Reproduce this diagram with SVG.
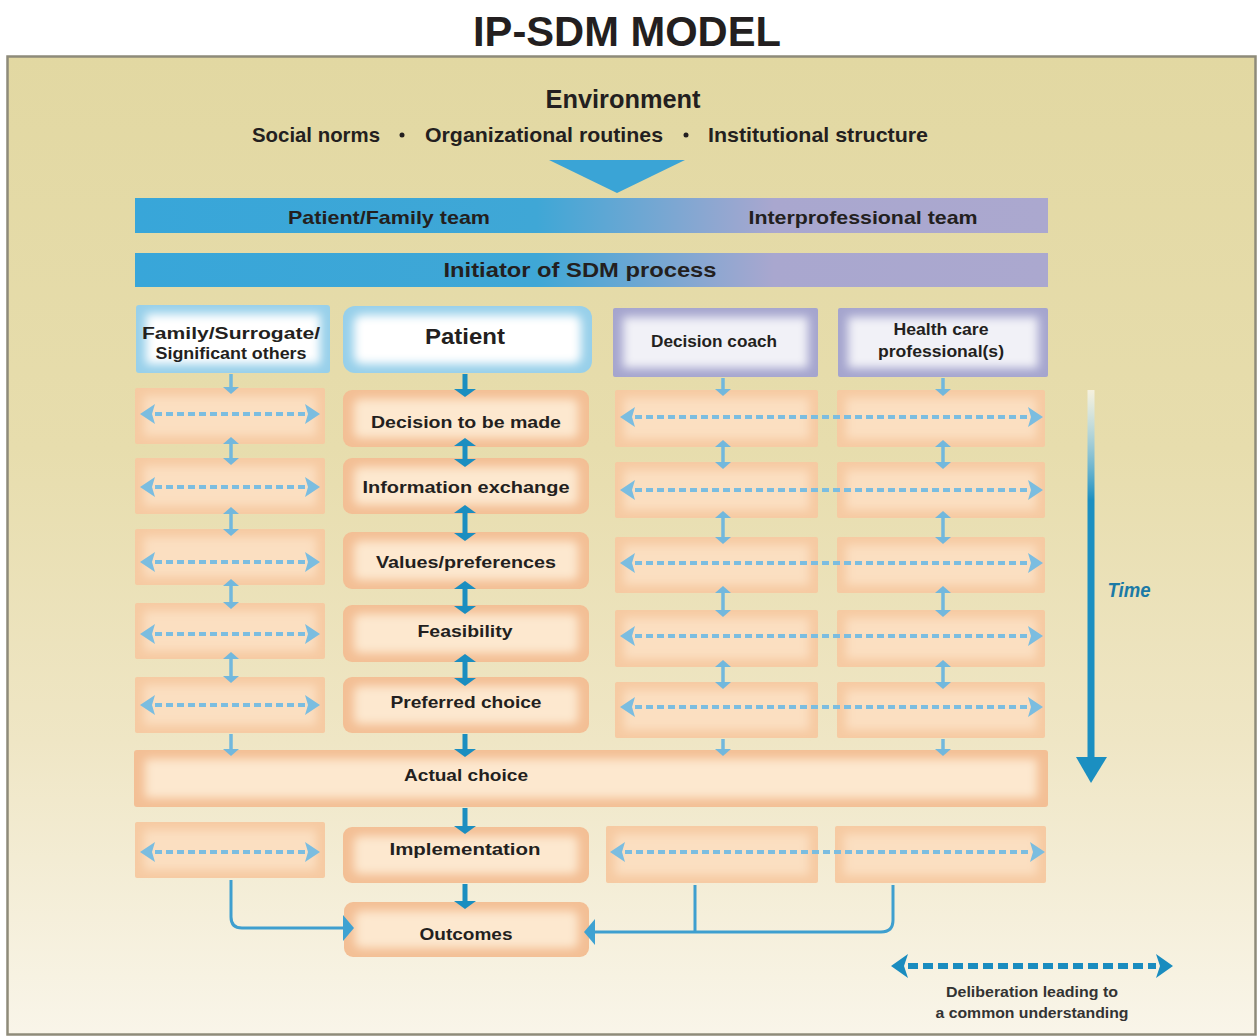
<svg xmlns="http://www.w3.org/2000/svg" width="1259" height="1036" viewBox="0 0 1259 1036">
<style>
.t{font-family:"Liberation Sans",Arial,sans-serif;font-weight:bold;fill:#231f20}
.lbl{font-size:17px;text-anchor:middle}
.hdr{font-size:16px;text-anchor:middle}
.env{font-size:21px;text-anchor:middle}
.sideO{fill:#f6caa2}
.sideI{fill:#fbdfc1;filter:url(#soft)}
.midO{fill:#f3bf95}
.midI{fill:#fde8cf;filter:url(#soft)}
.dl{stroke:#7bbde0;stroke-width:4;stroke-dasharray:7 4;fill:none;marker-start:url(#md);marker-end:url(#md)}
.va{stroke:#72b8dd;stroke-width:3.5;fill:none}
.vd{stroke:#1b8ec0;stroke-width:5;fill:none}
.cn{stroke:#3e9fcf;stroke-width:3;fill:none}
</style>
<defs>
<linearGradient id="bg" x1="0" y1="0" x2="0" y2="1">
<stop offset="0" stop-color="#e2d8a2"/>
<stop offset="0.4" stop-color="#e7ddad"/>
<stop offset="0.7" stop-color="#efe6c5"/>
<stop offset="1" stop-color="#f9f5e9"/>
</linearGradient>
<linearGradient id="bar" x1="0" y1="0" x2="1" y2="0">
<stop offset="0" stop-color="#38a6d9"/>
<stop offset="0.44" stop-color="#3fa7d6"/>
<stop offset="0.7" stop-color="#a9a7cf"/>
<stop offset="1" stop-color="#aba8cf"/>
</linearGradient>
<linearGradient id="timeg" gradientUnits="userSpaceOnUse" x1="0" y1="390" x2="0" y2="500">
<stop offset="0" stop-color="#ffffff" stop-opacity="0.6"/>
<stop offset="1" stop-color="#1b8fc1"/>
</linearGradient>
<filter id="soft" x="-20%" y="-60%" width="140%" height="220%"><feGaussianBlur stdDeviation="5"/></filter>
<marker id="hd" viewBox="0 -11 8 22" markerWidth="8" markerHeight="22" refX="0" refY="0" orient="auto-start-reverse" markerUnits="userSpaceOnUse"><path d="M0,-11 L8,0 L0,11 z" fill="#1b8ec0"/></marker>
<marker id="hl" viewBox="0 -8 7 16" markerWidth="7" markerHeight="16" refX="0" refY="0" orient="auto-start-reverse" markerUnits="userSpaceOnUse"><path d="M0,-8 L7,0 L0,8 z" fill="#72b8dd"/></marker>
<marker id="md" viewBox="0 -10 15 20" markerWidth="15" markerHeight="20" refX="0" refY="0" orient="auto-start-reverse" markerUnits="userSpaceOnUse"><path d="M0,-10 L15,0 L0,10 L3,0 z" fill="#7bbde0"/></marker>
<marker id="mc" viewBox="0 -13 11 26" markerWidth="11" markerHeight="26" refX="0" refY="0" orient="auto-start-reverse" markerUnits="userSpaceOnUse"><path d="M0,-13 L11,0 L0,13 z" fill="#3ea2d2"/></marker>
<marker id="ml" viewBox="0 -12 17 24" markerWidth="17" markerHeight="24" refX="0" refY="0" orient="auto-start-reverse" markerUnits="userSpaceOnUse"><path d="M0,-12 L17,0 L0,12 L4,0 z" fill="#1a8cbf"/></marker>
</defs>

<rect x="0" y="0" width="1259" height="1036" fill="#ffffff"/>
<text class="t" x="627" y="46" font-size="43" text-anchor="middle" textLength="308" lengthAdjust="spacingAndGlyphs">IP-SDM MODEL</text>
<rect x="7.5" y="56.5" width="1248" height="978" fill="url(#bg)" stroke="#8e8b7a" stroke-width="2.5"/>

<g id="environment">
<text class="t" x="623" y="108" font-size="25" text-anchor="middle" textLength="155" lengthAdjust="spacingAndGlyphs">Environment</text>
<text class="t env" x="316" y="142" textLength="128" lengthAdjust="spacingAndGlyphs">Social norms</text>
<circle cx="402" cy="135" r="2.5" fill="#231f20"/>
<text class="t env" x="544" y="142" textLength="238" lengthAdjust="spacingAndGlyphs">Organizational routines</text>
<circle cx="686" cy="135" r="2.5" fill="#231f20"/>
<text class="t env" x="818" y="142" textLength="220" lengthAdjust="spacingAndGlyphs">Institutional structure</text>
<polygon points="549,160 685,160 617,193" fill="#3aa4d6"/>
</g>

<g id="teams-bar">
<rect x="135" y="198" width="913" height="35" fill="url(#bar)"/>
<text class="t" x="389" y="224" font-size="19" text-anchor="middle" textLength="202" lengthAdjust="spacingAndGlyphs">Patient/Family team</text>
<text class="t" x="863" y="224" font-size="19" text-anchor="middle" textLength="229" lengthAdjust="spacingAndGlyphs">Interprofessional team</text>
</g>
<g id="initiator-bar">
<rect x="135" y="253" width="913" height="34" fill="url(#bar)"/>
<text class="t" x="580" y="277" font-size="20" text-anchor="middle" textLength="273" lengthAdjust="spacingAndGlyphs">Initiator of SDM process</text>
</g>

<g id="family">
<rect x="136" y="305" width="194" height="68" rx="3" fill="#98d0ea"/>
<rect x="146" y="314" width="174" height="50" fill="#ffffff" filter="url(#soft)"/>
<text class="t hdr" x="231" y="339" textLength="178" lengthAdjust="spacingAndGlyphs">Family/Surrogate/</text>
<text class="t hdr" x="231" y="359" textLength="151" lengthAdjust="spacingAndGlyphs">Significant others</text>
</g>
<g id="patient">
<rect x="343" y="306" width="249" height="67" rx="12" fill="#98d0ea"/>
<rect x="354" y="315" width="227" height="49" rx="8" fill="#ffffff" filter="url(#soft)"/>
<text class="t" x="465" y="344" font-size="22" text-anchor="middle" textLength="80" lengthAdjust="spacingAndGlyphs">Patient</text>
</g>
<g id="decision-coach">
<rect x="613" y="308" width="205" height="69" rx="2" fill="#a5a5ce"/>
<rect x="623" y="317" width="185" height="51" fill="#f1f1f7" filter="url(#soft)"/>
<text class="t hdr" x="714" y="347" textLength="126" lengthAdjust="spacingAndGlyphs">Decision coach</text>
</g>
<g id="hcp">
<rect x="838" y="308" width="210" height="69" rx="2" fill="#a5a5ce"/>
<rect x="848" y="317" width="190" height="51" fill="#f1f1f7" filter="url(#soft)"/>
<text class="t hdr" x="941" y="335" textLength="95" lengthAdjust="spacingAndGlyphs">Health care</text>
<text class="t hdr" x="941" y="357" textLength="126" lengthAdjust="spacingAndGlyphs">professional(s)</text>
</g>

<g id="fam-r1"><rect class="sideO" x="135" y="388" width="190" height="56" rx="2"/><rect class="sideI" x="144" y="396" width="172" height="40"/></g>
<g id="fam-r2"><rect class="sideO" x="135" y="458" width="190" height="56" rx="2"/><rect class="sideI" x="144" y="466" width="172" height="40"/></g>
<g id="fam-r3"><rect class="sideO" x="135" y="529" width="190" height="56" rx="2"/><rect class="sideI" x="144" y="537" width="172" height="40"/></g>
<g id="fam-r4"><rect class="sideO" x="135" y="603" width="190" height="56" rx="2"/><rect class="sideI" x="144" y="611" width="172" height="40"/></g>
<g id="fam-r5"><rect class="sideO" x="135" y="677" width="190" height="56" rx="2"/><rect class="sideI" x="144" y="685" width="172" height="40"/></g>
<g id="fam-r7"><rect class="sideO" x="135" y="822" width="190" height="56" rx="2"/><rect class="sideI" x="144" y="830" width="172" height="40"/></g>

<g id="decision"><rect class="midO" x="343" y="390" width="246" height="57" rx="9"/><rect class="midI" x="354" y="399" width="224" height="39" rx="6"/><text class="t lbl" x="466" y="428" textLength="190" lengthAdjust="spacingAndGlyphs">Decision to be made</text></g>
<g id="information"><rect class="midO" x="343" y="458" width="246" height="56" rx="9"/><rect class="midI" x="354" y="467" width="224" height="38" rx="6"/><text class="t lbl" x="466" y="493" textLength="207" lengthAdjust="spacingAndGlyphs">Information exchange</text></g>
<g id="values"><rect class="midO" x="343" y="532" width="246" height="57" rx="9"/><rect class="midI" x="354" y="541" width="224" height="39" rx="6"/><text class="t lbl" x="466" y="568" textLength="180" lengthAdjust="spacingAndGlyphs">Values/preferences</text></g>
<g id="feasibility"><rect class="midO" x="343" y="605" width="246" height="57" rx="9"/><rect class="midI" x="354" y="614" width="224" height="39" rx="6"/><text class="t lbl" x="465" y="637" textLength="95" lengthAdjust="spacingAndGlyphs">Feasibility</text></g>
<g id="preferred"><rect class="midO" x="343" y="677" width="246" height="56" rx="9"/><rect class="midI" x="354" y="686" width="224" height="38" rx="6"/><text class="t lbl" x="466" y="708" textLength="151" lengthAdjust="spacingAndGlyphs">Preferred choice</text></g>
<g id="actual"><rect class="midO" x="134" y="750" width="914" height="57" rx="3"/><rect class="midI" x="145" y="759" width="892" height="39" rx="3"/><text class="t lbl" x="466" y="781" font-size="18" textLength="124" lengthAdjust="spacingAndGlyphs">Actual choice</text></g>
<g id="implementation"><rect class="midO" x="343" y="827" width="246" height="56" rx="9"/><rect class="midI" x="354" y="836" width="224" height="38" rx="6"/><text class="t lbl" x="465" y="855" textLength="151" lengthAdjust="spacingAndGlyphs">Implementation</text></g>
<g id="outcomes"><rect class="midO" x="344" y="902" width="245" height="55" rx="9"/><rect class="midI" x="355" y="911" width="223" height="37" rx="6"/><text class="t lbl" x="466" y="940" textLength="93" lengthAdjust="spacingAndGlyphs">Outcomes</text></g>

<g id="dc-r1"><rect class="sideO" x="615" y="390" width="203" height="57" rx="2"/><rect class="sideI" x="624" y="398" width="185" height="41"/></g>
<g id="dc-r2"><rect class="sideO" x="615" y="462" width="203" height="56" rx="2"/><rect class="sideI" x="624" y="470" width="185" height="40"/></g>
<g id="dc-r3"><rect class="sideO" x="615" y="537" width="203" height="56" rx="2"/><rect class="sideI" x="624" y="545" width="185" height="40"/></g>
<g id="dc-r4"><rect class="sideO" x="615" y="610" width="203" height="57" rx="2"/><rect class="sideI" x="624" y="618" width="185" height="41"/></g>
<g id="dc-r5"><rect class="sideO" x="615" y="682" width="203" height="56" rx="2"/><rect class="sideI" x="624" y="690" width="185" height="40"/></g>
<g id="dc-r7"><rect class="sideO" x="606" y="826" width="212" height="57" rx="2"/><rect class="sideI" x="615" y="834" width="194" height="41"/></g>

<g id="hcp-r1"><rect class="sideO" x="837" y="390" width="208" height="57" rx="2"/><rect class="sideI" x="846" y="398" width="190" height="41"/></g>
<g id="hcp-r2"><rect class="sideO" x="837" y="462" width="208" height="56" rx="2"/><rect class="sideI" x="846" y="470" width="190" height="40"/></g>
<g id="hcp-r3"><rect class="sideO" x="837" y="537" width="208" height="56" rx="2"/><rect class="sideI" x="846" y="545" width="190" height="40"/></g>
<g id="hcp-r4"><rect class="sideO" x="837" y="610" width="208" height="57" rx="2"/><rect class="sideI" x="846" y="618" width="190" height="41"/></g>
<g id="hcp-r5"><rect class="sideO" x="837" y="682" width="208" height="56" rx="2"/><rect class="sideI" x="846" y="690" width="190" height="40"/></g>
<g id="hcp-r7"><rect class="sideO" x="835" y="826" width="211" height="57" rx="2"/><rect class="sideI" x="844" y="834" width="193" height="41"/></g>

<g id="connectors">
<g class="vd">
<path d="M465,374 V389" marker-end="url(#hd)"/>
<path d="M465,446 V459" marker-start="url(#hd)" marker-end="url(#hd)"/>
<path d="M465,513 V533" marker-start="url(#hd)" marker-end="url(#hd)"/>
<path d="M465,589 V606" marker-start="url(#hd)" marker-end="url(#hd)"/>
<path d="M465,662 V678" marker-start="url(#hd)" marker-end="url(#hd)"/>
<path d="M465,734 V749" marker-end="url(#hd)"/>
<path d="M465,808 V826" marker-end="url(#hd)"/>
<path d="M465,884 V901" marker-end="url(#hd)"/>
</g>
<g class="va">
<path d="M231,374 V387" marker-end="url(#hl)"/>
<path d="M231,444 V458" marker-start="url(#hl)" marker-end="url(#hl)"/>
<path d="M231,514 V529" marker-start="url(#hl)" marker-end="url(#hl)"/>
<path d="M231,586 V602" marker-start="url(#hl)" marker-end="url(#hl)"/>
<path d="M231,659 V676" marker-start="url(#hl)" marker-end="url(#hl)"/>
<path d="M231,734 V749" marker-end="url(#hl)"/>
</g>
<g class="va">
<path d="M723,378 V389" marker-end="url(#hl)"/>
<path d="M723,447 V462" marker-start="url(#hl)" marker-end="url(#hl)"/>
<path d="M723,518 V537" marker-start="url(#hl)" marker-end="url(#hl)"/>
<path d="M723,593 V610" marker-start="url(#hl)" marker-end="url(#hl)"/>
<path d="M723,667 V682" marker-start="url(#hl)" marker-end="url(#hl)"/>
<path d="M723,739 V749" marker-end="url(#hl)"/>
</g>
<g class="va">
<path d="M943,378 V389" marker-end="url(#hl)"/>
<path d="M943,447 V462" marker-start="url(#hl)" marker-end="url(#hl)"/>
<path d="M943,518 V537" marker-start="url(#hl)" marker-end="url(#hl)"/>
<path d="M943,593 V610" marker-start="url(#hl)" marker-end="url(#hl)"/>
<path d="M943,667 V682" marker-start="url(#hl)" marker-end="url(#hl)"/>
<path d="M943,739 V749" marker-end="url(#hl)"/>
</g>
<path class="dl" d="M155,414 H305"/>
<path class="dl" d="M155,487 H305"/>
<path class="dl" d="M155,562 H305"/>
<path class="dl" d="M155,634 H305"/>
<path class="dl" d="M155,705 H305"/>
<path class="dl" d="M155,852 H305"/>
<path class="dl" d="M635,417 H1028"/>
<path class="dl" d="M635,490 H1028"/>
<path class="dl" d="M635,563 H1028"/>
<path class="dl" d="M635,636 H1028"/>
<path class="dl" d="M635,707 H1028"/>
<path class="dl" d="M625,852 H1030"/>
<path class="cn" d="M231,880 V917 Q231,928 242,928 H343" marker-end="url(#mc)"/>
<path class="cn" d="M893,885 V920 Q893,932 881,932 H595" marker-end="url(#mc)"/>
<path class="cn" d="M695,885 V932"/>
</g>

<g id="time">
<line x1="1091" y1="390" x2="1091" y2="760" stroke="url(#timeg)" stroke-width="7"/>
<polygon points="1076,757 1107,757 1091,783" fill="#1b8fc1"/>
<text x="1129" y="597" font-family="'Liberation Sans',Arial,sans-serif" font-style="italic" font-weight="bold" font-size="20" fill="#1b7aa6" text-anchor="middle" textLength="43" lengthAdjust="spacingAndGlyphs">Time</text>
</g>

<g id="legend">
<line x1="908" y1="966" x2="1156" y2="966" stroke="#1a8cbf" stroke-width="6" stroke-dasharray="10 5" marker-start="url(#ml)" marker-end="url(#ml)"/>
<text class="t" x="1032" y="997" font-size="14" text-anchor="middle" textLength="172" lengthAdjust="spacingAndGlyphs" style="fill:#333">Deliberation leading to</text>
<text class="t" x="1032" y="1018" font-size="14" text-anchor="middle" textLength="193" lengthAdjust="spacingAndGlyphs" style="fill:#333">a common understanding</text>
</g>
</svg>
